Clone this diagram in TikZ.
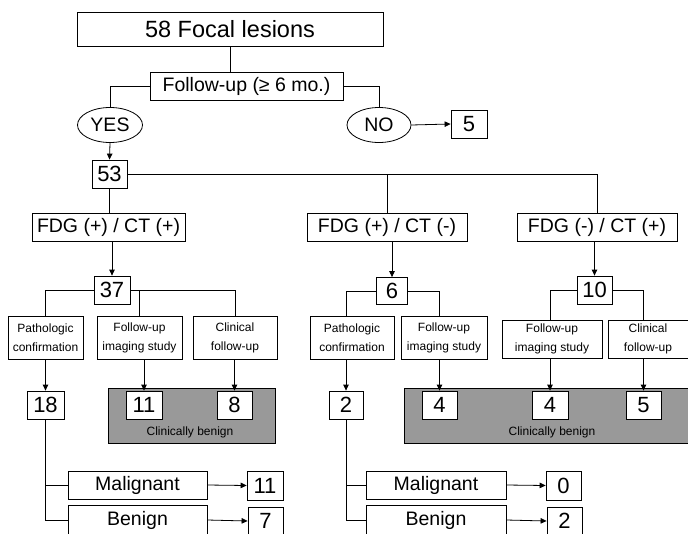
\documentclass[tikz,border=0pt]{standalone}
\usepackage{fontspec}
\setmainfont{Liberation Sans}
\usetikzlibrary{arrows.meta,shapes.geometric}
\newcommand\fsTop{\fontsize{23.5}{27}\selectfont}
\newcommand\fsMid{\fontsize{19.5}{22}\selectfont}
\newcommand\fsNum{\fontsize{22}{24}\selectfont}
\newcommand\fsSm{\fontsize{12}{19}\selectfont}
\newcommand\fsCb{\fontsize{12}{13}\selectfont}
\begin{document}
\begin{tikzpicture}[x=1pt,y=-1pt,
  bx/.style={draw,line width=0.8pt,inner sep=0pt,fill=white},
  bigbox/.style={bx,font=\fsMid},
  numbox/.style={bx,font=\fsNum},
  smbox/.style={bx,font=\fsSm,align=center},
  oval/.style={draw,line width=0.8pt,ellipse,inner sep=0pt,font=\fsMid},
  ln/.style={line width=0.8pt},
  arr/.style={ln,-{Triangle[length=6pt,width=5.5pt]}},
  shade/.style={draw,line width=0.8pt,fill=black!40}]
\clip (0,0) rectangle (688,533);
\fill[white] (0,0) rectangle (688,533);
% shaded panels
\draw[shade] (108,388) rectangle (275,443);
\draw[shade] (404,388) rectangle (700,443);
% top part
\node[bx,font=\fsTop,minimum width=306,minimum height=34] (top) at (230,29) {58 Focal lesions};
\node[bigbox,minimum width=193,minimum height=28] (fu) at (246.5,86) {Follow-up (≥ 6 mo.)};
\node[oval,minimum width=65,minimum height=35] (yes) at (110,125) {YES};
\node[oval,minimum width=64,minimum height=35] (no) at (379,125) {NO};
\node[numbox,minimum width=36,minimum height=28] (five) at (469,124) {5};
\node[numbox,minimum width=35,minimum height=28] (n53) at (109.5,174) {53};
% FDG boxes
\node[bigbox,minimum width=153,minimum height=28] (fdg1) at (108.5,227) {FDG (+) / CT (+)};
\node[bigbox,minimum width=160,minimum height=28] (fdg2) at (387,227) {FDG (+) / CT (-)};
\node[bigbox,minimum width=160,minimum height=28] (fdg3) at (597,227) {FDG (-) / CT (+)};
% second numbers
\node[numbox,minimum width=36,minimum height=28] (n37) at (112,290) {37};
\node[numbox,minimum width=31,minimum height=27] (n6) at (392,291) {6};
\node[numbox,minimum width=35,minimum height=28] (n10) at (594.5,290) {10};
% method boxes
\node[smbox,minimum width=75,minimum height=43] (pc1) at (45.5,337.5) {Pathologic\\confirmation};
\node[smbox,minimum width=85,minimum height=43] (fi1) at (139.5,337.5) {Follow-up\\imaging study};
\node[smbox,minimum width=84,minimum height=43] (cf1) at (235,337.5) {Clinical\\follow-up};
\node[smbox,minimum width=84,minimum height=43] (pc2) at (352,338) {Pathologic\\confirmation};
\node[smbox,minimum width=86,minimum height=43] (fi2) at (444,338) {Follow-up\\imaging study};
\node[smbox,minimum width=100,minimum height=38] (fi3) at (552,339) {Follow-up\\imaging study};
\node[smbox,minimum width=80,minimum height=38] (cf3) at (648,339) {Clinical\\follow-up};
% result numbers
\node[numbox,minimum width=37,minimum height=28] (n18) at (45.5,405) {18};
\node[numbox,minimum width=36,minimum height=28] (n11a) at (144,405) {11};
\node[numbox,minimum width=35,minimum height=28] (n8) at (234.5,405) {8};
\node[numbox,minimum width=34,minimum height=28] (n2) at (346,405) {2};
\node[numbox,minimum width=35,minimum height=28] (n4a) at (439.5,405) {4};
\node[numbox,minimum width=36,minimum height=28] (n4b) at (550,405) {4};
\node[numbox,minimum width=35,minimum height=28] (n5b) at (643.5,405) {5};
\node[font=\fsCb,inner sep=0pt] (cb1) at (190,432) {Clinically benign};
\node[font=\fsCb,inner sep=0pt] (cb2) at (552,432) {Clinically benign};
% malignant / benign
\node[bigbox,minimum width=139,minimum height=28] (mal1) at (137.5,485) {Malignant};
\node[bigbox,minimum width=139,minimum height=30] (ben1) at (137.5,520) {Benign};
\node[numbox,minimum width=36,minimum height=29] (n11b) at (265,485.5) {11};
\node[numbox,minimum width=35,minimum height=28] (n7) at (265.5,521) {7};
\node[bigbox,minimum width=140,minimum height=28] (mal2) at (436,485) {Malignant};
\node[bigbox,minimum width=140,minimum height=30] (ben2) at (436,520) {Benign};
\node[numbox,minimum width=35,minimum height=29] (n0) at (563.5,485.5) {0};
\node[numbox,minimum width=35,minimum height=28] (n2b) at (564.5,521) {2};
% connectors top
\draw[ln] (top.south) -- (top.south |- fu.north);
\draw[ln] (fu.west) -| (yes.north);
\draw[ln] (fu.east) -| (no.north);
\draw[arr] (no.east) -- (five.west);
\draw[arr] (yes.south) -- (n53.north);
\draw[ln] (n53.east) -| (fdg3.north);
\draw[ln] (fdg2.north) -- (fdg2.north |- n53.east);
\draw[ln] (n53.south) -- (n53.south |- fdg1.north);
% group 1
\draw[arr] (n37.north |- fdg1.south) -- (n37.north);
\draw[ln] (n37.west) -| (pc1.north);
\draw[ln] (n37.east) -| (cf1.north);
\draw[ln] (fi1.north) -- (fi1.north |- n37.east);
\draw[arr] (pc1.south) -- (n18.north);
\draw[arr] (n11a.north |- fi1.south) -- (n11a.north);
\draw[arr] (n8.north |- cf1.south) -- (n8.north);
\draw[ln] (n18.south) |- (mal1.west);
\draw[ln] (n18.south) |- (ben1.west);
\draw[arr] (mal1.east) -- (n11b.west);
\draw[arr] (ben1.east) -- (n7.west);
% group 2
\draw[arr] (n6.north |- fdg2.south) -- (n6.north);
\draw[ln] (n6.west) -| (n2.north |- pc2.north);
\draw[ln] (n6.east) -| (n4a.north |- fi2.north);
\draw[arr] (n2.north |- pc2.south) -- (n2.north);
\draw[arr] (n4a.north |- fi2.south) -- (n4a.north);
\draw[ln] (n2.south) |- (mal2.west);
\draw[ln] (n2.south) |- (ben2.west);
\draw[arr] (mal2.east) -- (n0.west);
\draw[arr] (ben2.east) -- (n2b.west);
% group 3
\draw[arr] (n10.north |- fdg3.south) -- (n10.north);
\draw[ln] (n10.west) -| (n4b.north |- fi3.north);
\draw[ln] (n10.east) -| (n5b.north |- cf3.north);
\draw[arr] (n4b.north |- fi3.south) -- (n4b.north);
\draw[arr] (n5b.north |- cf3.south) -- (n5b.north);
\end{tikzpicture}
\end{document}
